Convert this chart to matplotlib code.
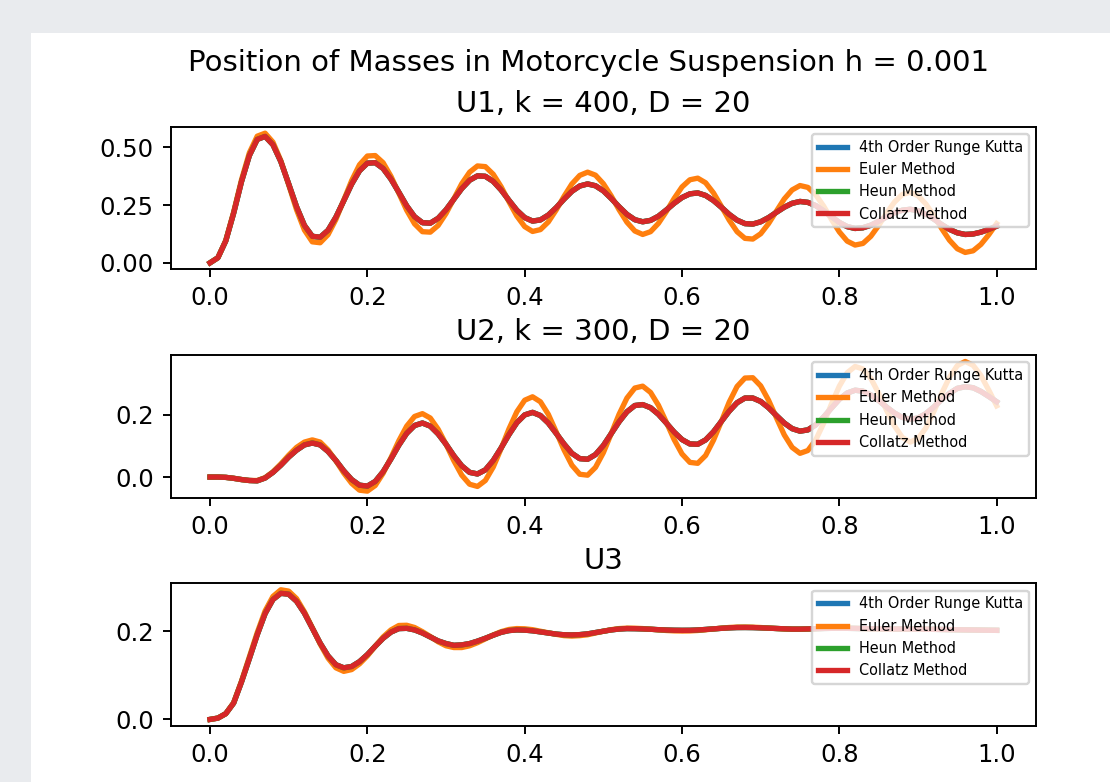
import numpy as np
import matplotlib
matplotlib.use("Agg")
import matplotlib.pyplot as plt
from matplotlib.patches import Rectangle
from matplotlib.ticker import MultipleLocator

# time grid (h shown every 0.01)
t = np.round(np.arange(101) * 0.01, 2)

u1_accurate = [
    0.000, 0.022, 0.095, 0.215, 0.352, 0.465, 0.535,
    0.548, 0.512, 0.439, 0.342, 0.243, 0.162, 0.115,
    0.111, 0.141, 0.198, 0.269, 0.341, 0.399, 0.432,
    0.434, 0.409, 0.363, 0.306, 0.247, 0.200, 0.174,
    0.172, 0.193, 0.230, 0.276, 0.322, 0.358, 0.377,
    0.375, 0.353, 0.316, 0.271, 0.228, 0.196, 0.181,
    0.186, 0.207, 0.239, 0.276, 0.310, 0.333, 0.342,
    0.334, 0.312, 0.279, 0.243, 0.210, 0.187, 0.178,
    0.184, 0.202, 0.229, 0.258, 0.283, 0.299,
    0.303, 0.292, 0.270, 0.241, 0.210, 0.185, 0.170,
    0.168, 0.178, 0.196, 0.219, 0.241, 0.258, 0.266,
    0.262, 0.248, 0.226, 0.200, 0.175, 0.157, 0.149,
    0.152, 0.163, 0.180, 0.199, 0.217, 0.228, 0.232,
    0.226, 0.211, 0.190, 0.166, 0.145, 0.130, 0.123,
    0.125, 0.133, 0.145, 0.159,
]
u1_euler = [
    0.000, 0.022, 0.097, 0.220, 0.360, 0.477, 0.549,
    0.562, 0.523, 0.443, 0.338, 0.230, 0.142, 0.091,
    0.087, 0.122, 0.188, 0.272, 0.356, 0.425, 0.463,
    0.465, 0.434, 0.375, 0.302, 0.228, 0.169, 0.135,
    0.133, 0.162, 0.214, 0.278, 0.343, 0.393, 0.420,
    0.417, 0.384, 0.330, 0.265, 0.203, 0.157, 0.136,
    0.144, 0.177, 0.229, 0.288, 0.342, 0.379, 0.393,
    0.380, 0.343, 0.290, 0.230, 0.176, 0.138, 0.123,
    0.135, 0.171, 0.222, 0.279, 0.329, 0.360,
    0.367, 0.347, 0.303, 0.245, 0.185, 0.135, 0.106,
    0.103, 0.126, 0.170, 0.224, 0.277, 0.316, 0.335,
    0.327, 0.295, 0.246, 0.188, 0.134, 0.094, 0.077,
    0.084, 0.115, 0.162, 0.215, 0.263, 0.296, 0.306,
    0.291, 0.255, 0.205, 0.149, 0.098, 0.061, 0.045,
    0.052, 0.080, 0.122, 0.170,
]

u2_accurate = [
    0.000, 0.000, -0.001, -0.004, -0.008, -0.011, -0.012,
    -0.003, 0.015, 0.038, 0.064, 0.086, 0.103, 0.109,
    0.103, 0.082, 0.053, 0.020, -0.008, -0.026,
    -0.029, -0.014, 0.017, 0.058, 0.102, 0.140, 0.165,
    0.173, 0.163, 0.138, 0.105, 0.068, 0.036, 0.015,
    0.010, 0.023, 0.053, 0.093, 0.136, 0.174, 0.199,
    0.207, 0.197, 0.173, 0.140, 0.106, 0.076, 0.059,
    0.057, 0.072, 0.101, 0.139, 0.177, 0.209, 0.229,
    0.232, 0.222, 0.201, 0.173, 0.144, 0.120, 0.106,
    0.105, 0.119, 0.145, 0.178, 0.211, 0.238, 0.253,
    0.253, 0.242, 0.222, 0.197, 0.173, 0.155, 0.147,
    0.151, 0.167, 0.192, 0.221, 0.249, 0.269, 0.278,
    0.275, 0.263, 0.245, 0.224, 0.205, 0.191, 0.185,
    0.189, 0.203, 0.224, 0.248, 0.268, 0.284, 0.289,
    0.286, 0.274, 0.258, 0.241,
]
u2_euler = [
    0.000, 0.000, -0.001, -0.004, -0.008, -0.011, -0.011,
    -0.002, 0.017, 0.042, 0.070, 0.095, 0.112, 0.119,
    0.112, 0.087, 0.052, 0.013, -0.020, -0.042,
    -0.045, -0.027, 0.012, 0.062, 0.116, 0.163, 0.194,
    0.203, 0.189, 0.153, 0.105, 0.052, 0.006, -0.023,
    -0.030, -0.011, 0.032, 0.091, 0.154, 0.209, 0.246,
    0.257, 0.241, 0.201, 0.145, 0.087, 0.038, 0.009,
    0.006, 0.031, 0.078, 0.139, 0.201, 0.253, 0.285,
    0.291, 0.271, 0.230, 0.176, 0.120, 0.074, 0.047,
    0.044, 0.069, 0.118, 0.178, 0.240, 0.290, 0.317,
    0.318, 0.292, 0.246, 0.190, 0.135, 0.095, 0.076,
    0.085, 0.119, 0.172, 0.234, 0.291, 0.334, 0.354,
    0.346, 0.316, 0.268, 0.214, 0.164, 0.127, 0.112,
    0.123, 0.157, 0.209, 0.267, 0.319, 0.357, 0.370,
    0.358, 0.325, 0.278, 0.228,
]

u3_accurate = [
    0.000, 0.003, 0.013, 0.037, 0.085, 0.138, 0.192,
    0.240, 0.272, 0.286, 0.284, 0.268, 0.241, 0.207,
    0.173, 0.144, 0.124, 0.117, 0.120, 0.131, 0.147,
    0.166, 0.184, 0.198, 0.206, 0.2066, 0.203, 0.196,
    0.187, 0.178, 0.172, 0.168, 0.169, 0.172, 0.1775,
    0.184, 0.191, 0.1975, 0.2015, 0.203, 0.2025, 0.201,
    0.1985, 0.196, 0.1935, 0.192, 0.1916, 0.1923, 0.194,
    0.197, 0.200, 0.203, 0.205, 0.206, 0.2058, 0.2053,
    0.2045, 0.2035, 0.2027, 0.2022, 0.202, 0.2021, 0.2028,
    0.204, 0.2053, 0.2066, 0.2077, 0.2084, 0.2085, 0.2083,
    0.2077, 0.207, 0.2062, 0.2055, 0.2048, 0.2048, 0.2052,
    0.2058, 0.2063, 0.2066, 0.2067, 0.2066, 0.2063, 0.206,
    0.2056, 0.2053, 0.2051, 0.205, 0.205, 0.2049, 0.2047,
    0.2045, 0.2043, 0.204, 0.2037, 0.2034, 0.2031, 0.2028,
    0.2025, 0.2022, 0.202,
]
u3_euler = [
    0.000, 0.003, 0.013, 0.038, 0.087, 0.142, 0.197,
    0.246, 0.279, 0.294, 0.291, 0.274, 0.244, 0.208,
    0.171, 0.139, 0.117, 0.109, 0.113, 0.126, 0.144,
    0.166, 0.187, 0.203, 0.213, 0.2135, 0.2085, 0.199,
    0.188, 0.176, 0.167, 0.163, 0.163, 0.167, 0.174,
    0.1827, 0.1916, 0.199, 0.204, 0.206, 0.2055, 0.2035,
    0.200, 0.1965, 0.193, 0.190, 0.189, 0.190, 0.192,
    0.196, 0.200, 0.2035, 0.206, 0.207, 0.2068, 0.206,
    0.2047, 0.203, 0.2017, 0.2008, 0.2005, 0.2007, 0.2017,
    0.2033, 0.2052, 0.207, 0.2085, 0.2094, 0.2095, 0.2092,
    0.2084, 0.2073, 0.2062, 0.2052, 0.2046, 0.2045, 0.2049,
    0.2057, 0.2065, 0.207, 0.2072, 0.207, 0.2066, 0.206,
    0.2054, 0.205, 0.2047, 0.2046, 0.2047, 0.2048, 0.2048,
    0.2046, 0.2043, 0.204, 0.2037, 0.2034, 0.2031, 0.2028,
    0.2025, 0.2022, 0.202,
]

titles = ["U1, k = 400, D = 20", "U2, k = 300, D = 20", "U3"]
method_labels = ["4th Order Runge Kutta", "Euler Method", "Heun Method", "Collatz Method"]
suptitle = "Position of Masses in Motorcycle Suspension h = 0.001"
ytick_steps = [0.25, 0.2, 0.2]

W, H = 1110, 782
DPI = 174.4
LW = 2.2
fig = plt.figure(figsize=(W / DPI, H / DPI), dpi=DPI, facecolor="#e9ebee")
fig.add_artist(Rectangle((31 / W, 0), 1 - 31 / W, (H - 33) / H,
                         transform=fig.transFigure, facecolor="white",
                         edgecolor="none", zorder=0))

left_px, right_px = 170.7, 1036.0
tops_px = [126.7, 355.0, 583.3]
ax_h_px = 142.6

series = [(u1_accurate, u1_euler), (u2_accurate, u2_euler), (u3_accurate, u3_euler)]
for i, (acc, eul) in enumerate(series):
    top = tops_px[i]
    ax = fig.add_axes([left_px / W, (H - top - ax_h_px) / H,
                       (right_px - left_px) / W, ax_h_px / H])
    ax.plot(t, acc, color="C0", lw=LW, label=method_labels[0])
    ax.plot(t, eul, color="C1", lw=LW, label=method_labels[1])
    ax.plot(t, acc, color="C2", lw=LW, label=method_labels[2])
    ax.plot(t, acc, color="C3", lw=LW, label=method_labels[3])
    ax.yaxis.set_major_locator(MultipleLocator(ytick_steps[i]))
    ax.set_title(titles[i])
    ax.legend(loc="upper right", fontsize=6)

fig.text(589 / W, (H - 49) / H, suptitle, ha="center", va="top", fontsize=12)

fig.savefig("out.png", dpi=DPI, facecolor=fig.get_facecolor())
